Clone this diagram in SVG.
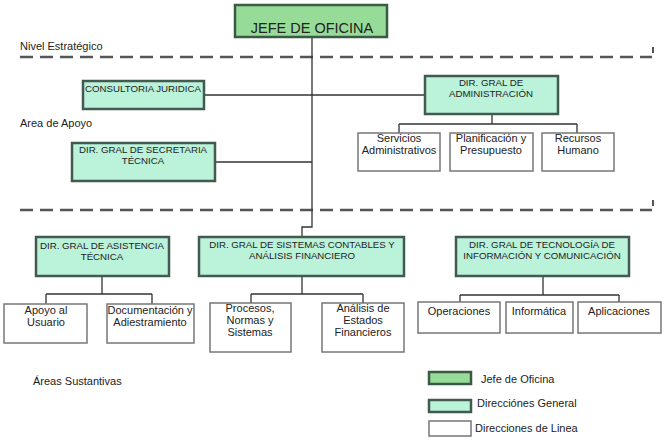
<svg xmlns="http://www.w3.org/2000/svg" width="666" height="448" viewBox="0 0 666 448">
<style>
text{font-family:"Liberation Sans",Arial,sans-serif;fill:#222}
.lbl{font-size:11px}
.jefe{fill:#96dc98;stroke:#3a5a45;stroke-width:2.5}
.dir{fill:#bbf2da;stroke:#435a50;stroke-width:2.5}
.lin{fill:#fff;stroke:#777;stroke-width:1.5}
.dt{font-size:9.7px;text-anchor:middle}
.ct{font-size:11px;text-anchor:middle}
.dash{stroke:#555;stroke-width:2.5;stroke-dasharray:13 7;fill:none}
.con{stroke:#333;stroke-width:1.3;fill:none}
</style>
<rect width="666" height="448" fill="#fff"/>
<g id="levels">
<path class="dash" d="M20 57H652"/>
<path class="dash" d="M20 210H652"/>
<path d="M653 47V53M653 200V206" stroke="#555" stroke-width="2"/>
<text class="lbl" x="20" y="50">Nivel Estratégico</text>
<text class="lbl" x="20" y="127">Area de Apoyo</text>
<text class="lbl" x="33" y="385">Áreas Sustantivas</text>
</g>
<g id="connectors">
<path class="con" d="M312 37V227H302V237"/>
<path class="con" d="M204 95H425" stroke="#777" stroke-width="1.5"/>
<path class="con" d="M215 162H312"/>
<path class="con" d="M492 114V124M399 124H577M399 124V133M577 124V133"/>
<path class="con" d="M102 276V294M46 294H152M46 294V304M152 294V304"/>
<path class="con" d="M302 276V294M251 294H363M251 294V303M363 294V303"/>
<path class="con" d="M543 276V295M460 295H619M460 295V302M619 295V302"/>
</g>
<g id="jefe"><rect class="jefe" x="235" y="5" width="152" height="32"/><text x="312" y="33" font-size="14.5" text-anchor="middle">JEFE DE OFICINA</text></g>
<g id="consultoria"><rect class="dir" x="83" y="81" width="121" height="28"/><text class="dt" x="143" y="92">CONSULTORIA JURIDICA</text></g>
<g id="admin"><rect class="dir" x="425" y="76" width="133" height="38"/><text class="dt" x="491" y="86">DIR. GRAL DE</text><text class="dt" x="491" y="97">ADMINISTRACIÓN</text></g>
<g id="secretaria"><rect class="dir" x="72" y="143" width="143" height="38"/><text class="dt" x="143" y="153">DIR. GRAL DE SECRETARIA</text><text class="dt" x="143" y="164">TÉCNICA</text></g>
<g id="servicios"><rect class="lin" x="358" y="133" width="82" height="38"/><text class="ct" x="399" y="142">Servicios</text><text class="ct" x="399" y="154">Administrativos</text></g>
<g id="planificacion"><rect class="lin" x="450" y="133" width="83" height="38"/><text class="ct" x="491" y="142">Planificación y</text><text class="ct" x="491" y="154">Presupuesto</text></g>
<g id="recursos"><rect class="lin" x="542" y="133" width="72" height="38"/><text class="ct" x="578" y="142">Recursos</text><text class="ct" x="578" y="154">Humano</text></g>
<g id="asistencia"><rect class="dir" x="36" y="237" width="133" height="39"/><text class="dt" x="102" y="249">DIR. GRAL DE ASISTENCIA</text><text class="dt" x="102" y="260">TÉCNICA</text></g>
<g id="sistemas"><rect class="dir" x="199" y="237" width="205" height="39"/><text class="dt" x="302" y="248">DIR. GRAL DE SISTEMAS CONTABLES Y</text><text class="dt" x="302" y="259">ANÁLISIS FINANCIERO</text></g>
<g id="tecnologia"><rect class="dir" x="456" y="237" width="173" height="39"/><text class="dt" x="542" y="248">DIR. GRAL DE TECNOLOGÍA DE</text><text class="dt" x="542" y="259">INFORMACIÓN Y COMUNICACIÓN</text></g>
<g id="apoyo"><rect class="lin" x="4" y="304" width="83" height="39"/><text class="ct" x="46" y="314">Apoyo al</text><text class="ct" x="46" y="326">Usuario</text></g>
<g id="documentacion"><rect class="lin" x="107" y="304" width="87" height="39"/><text class="ct" x="150" y="314">Documentación y</text><text class="ct" x="150" y="326">Adiestramiento</text></g>
<g id="procesos"><rect class="lin" x="210" y="303" width="81" height="49"/><text class="ct" x="250" y="312">Procesos,</text><text class="ct" x="250" y="324">Normas y</text><text class="ct" x="250" y="336">Sistemas</text></g>
<g id="analisis"><rect class="lin" x="322" y="303" width="82" height="49"/><text class="ct" x="363" y="312">Análisis de</text><text class="ct" x="363" y="324">Estados</text><text class="ct" x="363" y="336">Financieros</text></g>
<g id="operaciones"><rect class="lin" x="418" y="302" width="82" height="31"/><text class="ct" x="459" y="315">Operaciones</text></g>
<g id="informatica"><rect class="lin" x="506" y="302" width="67" height="31"/><text class="ct" x="539" y="315">Informática</text></g>
<g id="aplicaciones"><rect class="lin" x="578" y="302" width="83" height="31"/><text class="ct" x="619" y="315">Aplicaciones</text></g>
<g id="legend">
<rect class="jefe" x="429" y="372" width="42" height="12" stroke-width="2"/>
<text class="lbl" x="481" y="383">Jefe de Oficina</text>
<rect class="dir" x="429" y="400" width="42" height="12" stroke-width="2"/>
<text class="lbl" x="477" y="407">Direcciónes General</text>
<rect class="lin" x="429" y="421" width="42" height="15"/>
<text class="lbl" x="475" y="432">Direcciones de Linea</text>
</g>
</svg>
